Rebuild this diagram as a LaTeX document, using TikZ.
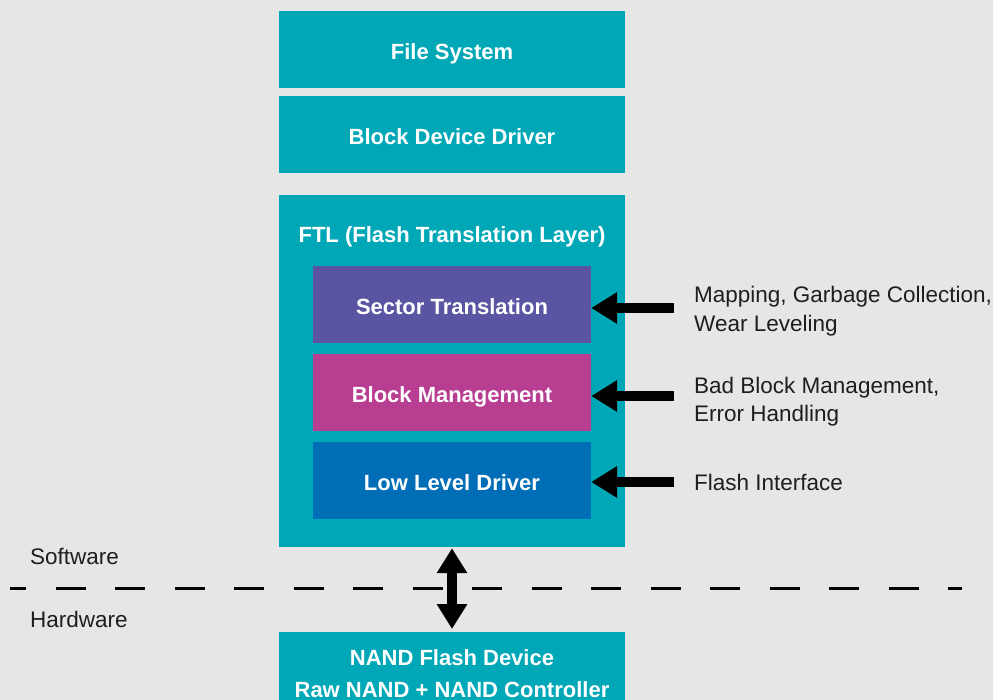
\documentclass[tikz,border=0pt]{standalone}
\usepackage{fontspec}
\setmainfont{Liberation Sans}
\usetikzlibrary{arrows.meta}
\definecolor{bgcol}{HTML}{E6E6E6}
\definecolor{ftlteal}{HTML}{00A8B7}
\definecolor{stpurple}{HTML}{5A55A3}
\definecolor{bmmagenta}{HTML}{B83E92}
\definecolor{lldblue}{HTML}{006DB7}
\definecolor{lbltext}{HTML}{1E1E1E}
\begin{document}
\begin{tikzpicture}[x=1pt,y=-1pt,
  wtext/.style={text=white, inner sep=0pt, font=\bfseries\fontsize{22}{26}\selectfont},
  box/.style={wtext, fill=ftlteal, draw=none, text height=19.5pt, text depth=0pt, minimum width=346pt},
  inbox/.style={box, minimum width=278pt, minimum height=77pt},
  side/.style={font=\fontsize{22.5}{27}\selectfont, text=lbltext, inner sep=0pt, anchor=base west},
  fatarrow/.style={line width=10pt, -{Triangle[length=26pt,width=30pt]}},
  dblarrow/.style={line width=9.5pt, {Triangle[length=25pt,width=29pt]}-{Triangle[length=25pt,width=29pt]}},
  divider/.style={line width=3pt, dash pattern=on 30pt off 29.5pt, dash phase=14pt, black}
]
\clip (0,0) rectangle (993,700);
\fill[bgcol] (0,0) rectangle (993,700);

\node[box, minimum height=77pt] (fs) at (452,49.5) {File System};
\node[box, minimum height=77pt] (bdd) at (452,134.5) {Block Device Driver};
\node[box, minimum height=352pt] (ftl) at (452,371) {};
\node[wtext, anchor=base] (ftltitle) at (452,243) {FTL (Flash Translation Layer)};
\node[inbox, fill=stpurple] (st) at (452,304.5) {Sector Translation};
\node[inbox, fill=bmmagenta] (bm) at (452,392.5) {Block Management};
\node[inbox, fill=lldblue] (lld) at (452,480.5) {Low Level Driver};
\node[box, minimum height=110pt, anchor=north] (nand) at (452,632) {};
\node[wtext, anchor=base] (nand1) at (452,665) {NAND Flash Device};
\node[wtext, anchor=base] (nand2) at (452,697) {Raw NAND + NAND Controller};

\node[side] (l1a) at (694,303) {Mapping, Garbage Collection,};
\node[side] (l1b) at (694,331.5) {Wear Leveling};
\node[side] (l2a) at (694,393.3) {Bad Block Management,};
\node[side] (l2b) at (694,421.7) {Error Handling};
\node[side] (l3) at (694,490) {Flash Interface};

\node[side] (sw) at (30,564) {Software};
\node[side] (hw) at (30,627.3) {Hardware};

\coordinate (a1) at (674,308);
\coordinate (a2) at (674,396);
\coordinate (a3) at (674,482);
\draw[fatarrow] (a1) -- (a1 -| st.east);
\draw[fatarrow] (a2) -- (a2 -| bm.east);
\draw[fatarrow] (a3) -- (a3 -| lld.east);

\coordinate (dl) at (10,588);
\coordinate (dr) at (962,588);
\draw[divider] (dl) -- (dr);

\draw[dblarrow, shorten <=1pt, shorten >=3pt] (ftl.south) -- (nand.north);
\end{tikzpicture}
\end{document}
